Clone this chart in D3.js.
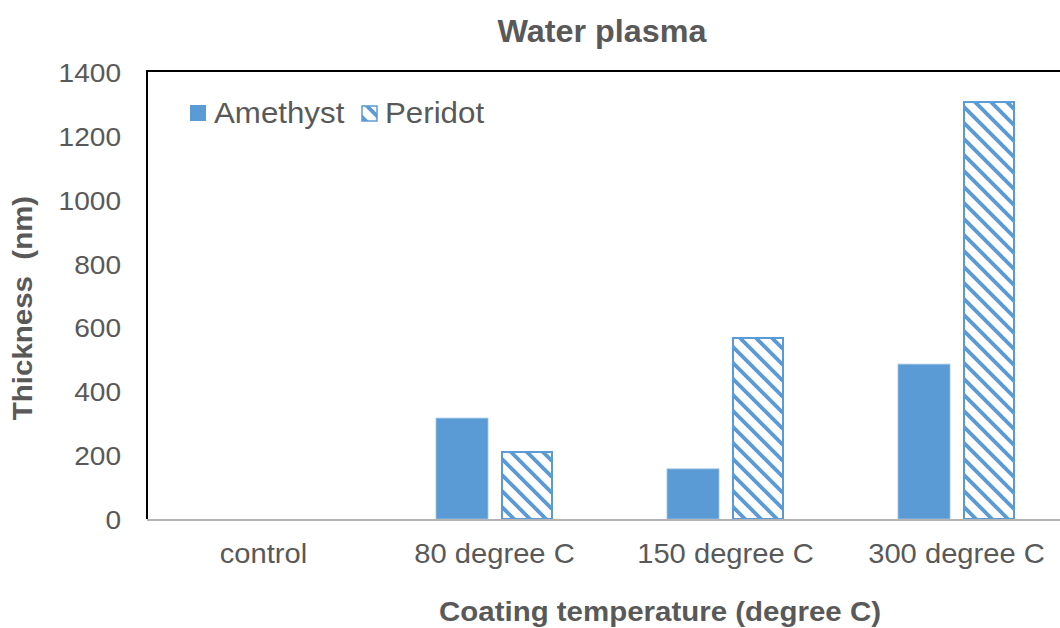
<!DOCTYPE html>
<html>
<head>
<meta charset="utf-8">
<script src="https://cdn.jsdelivr.net/npm/d3@7"></script>
<style>
  html, body { margin: 0; padding: 0; background: #fff; }
  svg { display: block; font-family: "Liberation Sans", Arial, sans-serif; }
</style>
</head>
<body>
<svg id="chart" width="1060" height="628"></svg>
<script>
// Coating thickness by temperature, water plasma treatment
const categories = ["control", "80 degree C", "150 degree C", "300 degree C"];
const seriesNames = ["Amethyst", "Peridot"];
const amethyst = [0, 316, 157, 485];
const peridot = [0, 213, 570, 1309];
const yTicks = [0, 200, 400, 600, 800, 1000, 1200, 1400];

const W = 1060, H = 628;
const m = { left: 148, right: -12, top: 72, bottom: 109 };
const blue = "#5B9BD5";
const textCol = "#595959";
const widen = 1.06; // slight horizontal widening applied to all labels

const svg = d3.select("#chart");

// diagonal hatch for the second series
const defs = svg.append("defs");
const pat = defs.append("pattern")
  .attr("id", "hatch")
  .attr("patternUnits", "userSpaceOnUse")
  .attr("width", 16).attr("height", 16);
pat.append("rect").attr("width", 16).attr("height", 16).attr("fill", "#fff");
pat.append("path")
  .attr("d", "M-4,-4 L20,20 M-4,12 L4,20 M12,-4 L20,4")
  .attr("stroke", blue).attr("stroke-width", 3.8);

const x0 = d3.scaleBand()
  .domain(categories)
  .range([m.left, W - m.right])
  .paddingInner(0).paddingOuter(0);

const x1 = d3.scaleBand()
  .domain(seriesNames)
  .range([0, x0.bandwidth()])
  .paddingInner(0.2)
  .paddingOuter(0.877);

const y = d3.scaleLinear()
  .domain([0, 1400])
  .range([H - m.bottom, m.top]);

const data = categories.map((c, i) => ({
  cat: c,
  vals: [
    { s: "Amethyst", v: amethyst[i] },
    { s: "Peridot", v: peridot[i] }
  ]
}));

// plot frame (left and top)
svg.append("path")
  .attr("d", `M${m.left - 1},${y(0)} V${m.top - 1} H${W}`)
  .attr("fill", "none")
  .attr("stroke", "#000")
  .attr("stroke-width", 2);

// bars
const groups = svg.append("g").selectAll("g")
  .data(data).join("g")
  .attr("transform", d => `translate(${x0(d.cat)},0)`);

groups.selectAll("rect")
  .data(d => d.vals.filter(e => e.v > 0))
  .join("rect")
  .attr("x", d => x1(d.s) + (d.s === "Peridot" ? 1 : 0))
  .attr("y", d => y(d.v) + (d.s === "Peridot" ? 1 : 0))
  .attr("width", d => x1.bandwidth() - (d.s === "Peridot" ? 2 : 0))
  .attr("height", d => y(0) - y(d.v) - (d.s === "Peridot" ? 1 : 0))
  .attr("fill", d => d.s === "Amethyst" ? blue : "url(#hatch)")
  .attr("stroke", d => d.s === "Amethyst" ? "#9dc3e6" : blue)
  .attr("stroke-width", d => d.s === "Amethyst" ? 0.8 : 2);

// x axis baseline
svg.append("line")
  .attr("x1", m.left - 1).attr("x2", W)
  .attr("y1", y(0) + 1).attr("y2", y(0) + 1)
  .attr("stroke", "#b3b3b3").attr("stroke-width", 2);

// y tick labels
const yAxis = d3.axisLeft(y).tickValues(yTicks).tickFormat(d3.format("d"))
  .tickSize(0).tickPadding(0);
const gy = svg.append("g")
  .attr("transform", `translate(121,0)`)
  .call(yAxis);
gy.select(".domain").remove();
gy.selectAll("text")
  .attr("fill", textCol)
  .attr("font-size", 26.5)
  .attr("font-family", "Liberation Sans, Arial, sans-serif")
  .attr("dy", "0.36em");

// x tick labels
const xAxis = d3.axisBottom(x0).tickSize(0).tickPadding(0);
const gx = svg.append("g")
  .attr("transform", `translate(0,${y(0) + 24})`)
  .call(xAxis);
gx.select(".domain").remove();
gx.selectAll("text")
  .attr("fill", textCol)
  .attr("font-size", 27.5)
  .attr("font-family", "Liberation Sans, Arial, sans-serif");

// title
svg.append("text")
  .attr("x", 602).attr("y", 42)
  .attr("text-anchor", "middle")
  .attr("font-size", 30.5).attr("font-weight", "bold")
  .attr("fill", textCol)
  .text("Water plasma");

// axis titles
svg.append("text")
  .attr("x", 660).attr("y", 621)
  .attr("text-anchor", "middle")
  .attr("font-size", 27.8).attr("font-weight", "bold")
  .attr("fill", textCol)
  .text("Coating temperature (degree C)");

svg.append("text")
  .attr("transform", "translate(32,308) rotate(-90)")
  .attr("text-anchor", "middle")
  .attr("font-size", 27.8).attr("font-weight", "bold")
  .attr("fill", textCol)
  .attr("xml:space", "preserve")
  .style("white-space", "pre")
  .text("Thickness  (nm)");

// legend
const legend = svg.append("g").attr("transform", "translate(190,105)");
const items = [
  { s: "Amethyst", x: 0, fill: blue, stroke: "none" },
  { s: "Peridot", x: 171, fill: "url(#hatch)", stroke: blue }
];
items.forEach(it => {
  legend.append("rect")
    .attr("x", it.x + (it.stroke === "none" ? 0 : 1))
    .attr("y", it.stroke === "none" ? 0 : 1)
    .attr("width", it.stroke === "none" ? 16 : 15)
    .attr("height", it.stroke === "none" ? 16 : 15)
    .attr("fill", it.fill)
    .attr("stroke", it.stroke)
    .attr("stroke-width", 1.5);
  legend.append("text")
    .attr("x", it.x + 24).attr("y", 18)
    .attr("font-size", 29.5)
    .attr("fill", textCol)
    .text(it.s);
});

// widen every label slightly along its baseline
svg.selectAll("text").each(function () {
  const w = this.getComputedTextLength();
  if (w > 0) {
    this.setAttribute("textLength", w * widen);
    this.setAttribute("lengthAdjust", "spacingAndGlyphs");
  }
});
</script>
</body>
</html>
